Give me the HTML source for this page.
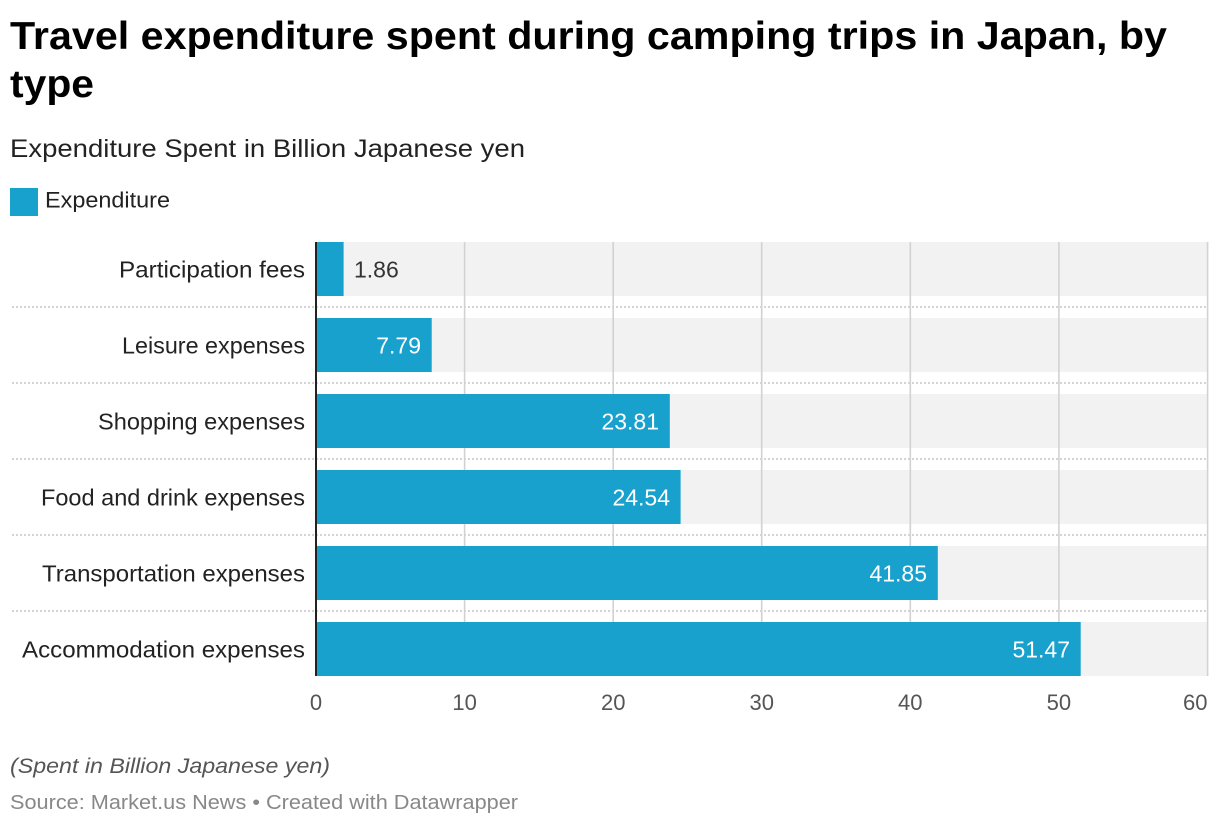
<!DOCTYPE html>
<html>
<head>
<meta charset="utf-8">
<style>
  html, body { margin: 0; padding: 0; background: #ffffff; }
  body { width: 1220px; height: 828px; overflow: hidden; }
  svg { display: block; }
  text { font-family: "Liberation Sans", Arial, sans-serif; }
</style>
</head>
<body>
<svg width="1220" height="828" viewBox="0 0 1220 828" xmlns="http://www.w3.org/2000/svg">
  <rect x="0" y="0" width="1220" height="828" fill="#ffffff"/>

  <!-- Title -->
  <text x="10" y="49" font-size="39" font-weight="bold" fill="#000" textLength="1157" lengthAdjust="spacingAndGlyphs">Travel expenditure spent during camping trips in Japan, by</text>
  <text x="10" y="97" font-size="39" font-weight="bold" fill="#000" textLength="84" lengthAdjust="spacingAndGlyphs">type</text>

  <!-- Subtitle -->
  <text x="10" y="157" font-size="25" fill="#222" textLength="515" lengthAdjust="spacingAndGlyphs">Expenditure Spent in Billion Japanese yen</text>

  <!-- Legend -->
  <rect x="10" y="188" width="28" height="28" fill="#18a1cd"/>
  <text x="45" y="207.5" font-size="22" fill="#222" textLength="125" lengthAdjust="spacingAndGlyphs">Expenditure</text>

  <!-- Gray backgrounds -->
  <g fill="#f2f2f2">
    <rect x="316" y="242" width="891.5" height="54"/>
    <rect x="316" y="318" width="891.5" height="54"/>
    <rect x="316" y="394" width="891.5" height="54"/>
    <rect x="316" y="470" width="891.5" height="54"/>
    <rect x="316" y="546" width="891.5" height="54"/>
    <rect x="316" y="622" width="891.5" height="54"/>
  </g>

  <!-- Dotted separators -->
  <g stroke="#d4d4d4" stroke-width="2" stroke-dasharray="2 2">
    <line x1="12" y1="307" x2="1208" y2="307"/>
    <line x1="12" y1="383" x2="1208" y2="383"/>
    <line x1="12" y1="459" x2="1208" y2="459"/>
    <line x1="12" y1="535" x2="1208" y2="535"/>
    <line x1="12" y1="611" x2="1208" y2="611"/>
  </g>

  <!-- Grid lines -->
  <g stroke="#d2d2d2" stroke-width="1.6">
    <line x1="464.6" y1="242" x2="464.6" y2="676"/>
    <line x1="613.2" y1="242" x2="613.2" y2="676"/>
    <line x1="761.7" y1="242" x2="761.7" y2="676"/>
    <line x1="910.3" y1="242" x2="910.3" y2="676"/>
    <line x1="1058.9" y1="242" x2="1058.9" y2="676"/>
    <line x1="1207.6" y1="242" x2="1207.6" y2="676"/>
  </g>

  <!-- Bars -->
  <g fill="#18a1cd">
    <rect x="316" y="242" width="27.6" height="54"/>
    <rect x="316" y="318" width="115.7" height="54"/>
    <rect x="316" y="394" width="353.8" height="54"/>
    <rect x="316" y="470" width="364.6" height="54"/>
    <rect x="316" y="546" width="621.8" height="54"/>
    <rect x="316" y="622" width="764.7" height="54"/>
  </g>

  <!-- Axis line -->
  <line x1="316" y1="242" x2="316" y2="676" stroke="#222" stroke-width="2"/>

  <!-- Category labels -->
  <g font-size="23" fill="#222" text-anchor="end">
    <text x="305" y="277.5" textLength="186" lengthAdjust="spacingAndGlyphs">Participation fees</text>
    <text x="305" y="353.5" textLength="183" lengthAdjust="spacingAndGlyphs">Leisure expenses</text>
    <text x="305" y="429.5" textLength="207" lengthAdjust="spacingAndGlyphs">Shopping expenses</text>
    <text x="305" y="505.5" textLength="264" lengthAdjust="spacingAndGlyphs">Food and drink expenses</text>
    <text x="305" y="581.5" textLength="263" lengthAdjust="spacingAndGlyphs">Transportation expenses</text>
    <text x="305" y="657.5" textLength="283" lengthAdjust="spacingAndGlyphs">Accommodation expenses</text>
  </g>

  <!-- Value labels -->
  <text x="354" y="277.5" font-size="23" fill="#333">1.86</text>
  <g font-size="23" fill="#ffffff" text-anchor="end">
    <text x="421" y="353.5">7.79</text>
    <text x="659" y="429.5">23.81</text>
    <text x="670" y="505.5">24.54</text>
    <text x="927" y="581.5">41.85</text>
    <text x="1070" y="657.5">51.47</text>
  </g>

  <!-- X axis tick labels -->
  <g font-size="22" fill="#555" text-anchor="middle">
    <text x="316" y="710">0</text>
    <text x="464.6" y="710">10</text>
    <text x="613.2" y="710">20</text>
    <text x="761.7" y="710">30</text>
    <text x="910.3" y="710">40</text>
    <text x="1058.9" y="710">50</text>
    <text x="1207.5" y="710" text-anchor="end">60</text>
  </g>

  <!-- Footer -->
  <text x="10" y="773" font-size="21" font-style="italic" fill="#555" textLength="320" lengthAdjust="spacingAndGlyphs">(Spent in Billion Japanese yen)</text>
  <text x="10" y="809" font-size="20" fill="#888" textLength="508" lengthAdjust="spacingAndGlyphs">Source: Market.us News • Created with Datawrapper</text>
</svg>
</body>
</html>
